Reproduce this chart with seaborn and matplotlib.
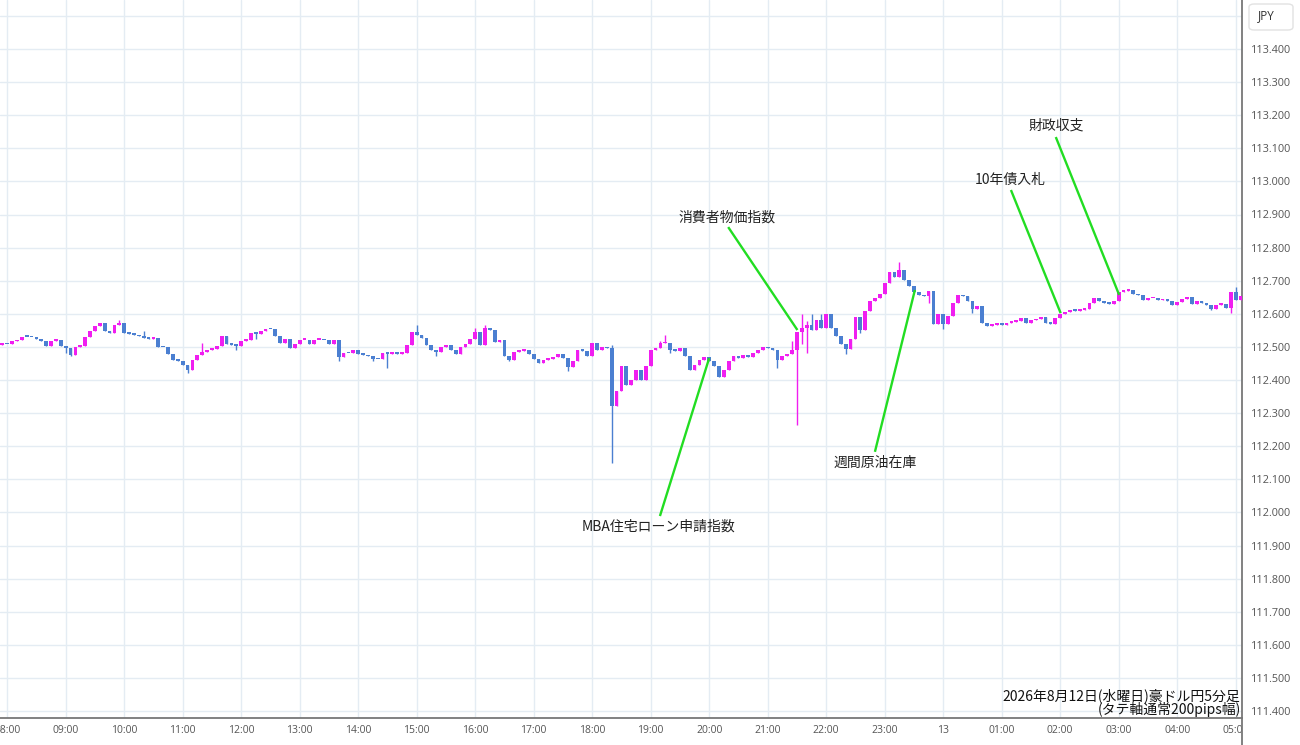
import matplotlib
matplotlib.use('Agg')
import matplotlib.pyplot as plt
import seaborn as sns
import numpy as np
from matplotlib.lines import Line2D
from matplotlib.patches import FancyBboxPatch
from matplotlib.transforms import Bbox, TransformedBbox

# 豪ドル円 5分足 終値 (07:55 から順に 1本ずつ)
closes = [
    112.509, 112.508, 112.517, 112.520, 112.531, 112.530, 112.529, 112.524, 112.519, 112.503, 112.518, 112.521,
    112.503, 112.496, 112.476, 112.501, 112.504, 112.531, 112.547, 112.562, 112.572, 112.547, 112.542, 112.565,
    112.572, 112.542, 112.540, 112.537, 112.532, 112.526, 112.524, 112.528, 112.501, 112.499, 112.478, 112.461,
    112.458, 112.446, 112.431, 112.461, 112.476, 112.484, 112.491, 112.493, 112.503, 112.534, 112.508, 112.506,
    112.504, 112.519, 112.521, 112.542, 112.539, 112.549, 112.555, 112.553, 112.532, 112.511, 112.524, 112.496,
    112.508, 112.521, 112.522, 112.509, 112.521, 112.522, 112.520, 112.510, 112.520, 112.470, 112.483, 112.481,
    112.492, 112.480, 112.477, 112.471, 112.464, 112.462, 112.481, 112.479, 112.484, 112.480, 112.482, 112.506,
    112.544, 112.536, 112.526, 112.506, 112.491, 112.486, 112.499, 112.506, 112.491, 112.478, 112.501, 112.508,
    112.524, 112.546, 112.506, 112.558, 112.552, 112.516, 112.521, 112.474, 112.461, 112.486, 112.488, 112.490,
    112.478, 112.464, 112.451, 112.461, 112.464, 112.470, 112.480, 112.466, 112.440, 112.456, 112.492, 112.488,
    112.471, 112.511, 112.491, 112.501, 112.496, 112.321, 112.366, 112.441, 112.386, 112.399, 112.431, 112.401,
    112.441, 112.491, 112.496, 112.511, 112.513, 112.491, 112.489, 112.496, 112.471, 112.431, 112.446, 112.461,
    112.468, 112.456, 112.441, 112.408, 112.431, 112.456, 112.471, 112.466, 112.476, 112.468, 112.481, 112.491,
    112.499, 112.496, 112.491, 112.461, 112.471, 112.478, 112.491, 112.546, 112.558, 112.566, 112.551, 112.581,
    112.557, 112.600, 112.556, 112.533, 112.510, 112.493, 112.525, 112.590, 112.550, 112.608, 112.638, 112.648,
    112.660, 112.693, 112.726, 112.710, 112.733, 112.703, 112.683, 112.666, 112.658, 112.653, 112.670, 112.568,
    112.600, 112.568, 112.593, 112.633, 112.658, 112.653, 112.638, 112.613, 112.623, 112.573, 112.563, 112.566,
    112.573, 112.565, 112.573, 112.576, 112.578, 112.588, 112.573, 112.580, 112.583, 112.590, 112.573, 112.570,
    112.588, 112.600, 112.604, 112.611, 112.609, 112.612, 112.616, 112.634, 112.647, 112.640, 112.632, 112.630,
    112.640, 112.667, 112.670, 112.672, 112.660, 112.656, 112.641, 112.647, 112.649, 112.641, 112.646, 112.640,
    112.626, 112.637, 112.645, 112.650, 112.630, 112.640, 112.632, 112.628, 112.616, 112.628, 112.631, 112.619,
    112.667, 112.642, 112.655,
]
first_open = 112.506

# 目立つヒゲ (足番号 -> 価格)
wick_lows = {13: 112.481, 14: 112.472, 38: 112.421, 48: 112.492, 52: 112.524, 69: 112.457,
             76: 112.457, 79: 112.436, 89: 112.471, 104: 112.456, 116: 112.426, 125: 112.149,
             137: 112.481, 159: 112.436, 163: 112.264, 164: 112.510, 165: 112.481, 173: 112.480,
             176: 112.543, 190: 112.633, 193: 112.553, 199: 112.603, 248: 112.612, 252: 112.601}
wick_highs = {24: 112.580, 29: 112.548, 41: 112.511, 52: 112.544, 85: 112.565, 97: 112.557,
              99: 112.565, 125: 112.505, 135: 112.517, 136: 112.537, 162: 112.517, 164: 112.600,
              165: 112.577, 166: 112.598, 168: 112.598, 176: 112.583, 184: 112.756, 253: 112.680}

hour_labels = ['08:00', '09:00', '10:00', '11:00', '12:00', '13:00', '14:00', '15:00', '16:00',
               '17:00', '18:00', '19:00', '20:00', '21:00', '22:00', '23:00', '13', '01:00',
               '02:00', '03:00', '04:00', '05:00']

events = ['MBA住宅ローン申請指数', '消費者物価指数', '週間原油在庫', '10年債入札', '財政収支']
event_bar = [145.0, 163.1, 187.2, 217.1, 229.1]
event_price = [112.466, 112.551, 112.672, 112.602, 112.657]

# ラベルの配置 (文字中心 / 線の始点)
label_x = [134.7, 148.7, 179.0, 206.7, 216.1]
label_y = [111.956, 112.892, 112.149, 113.004, 113.170]
line_x0 = [134.9, 148.9, 179.0, 206.9, 216.1]
line_y0 = [111.989, 112.862, 112.183, 112.974, 113.134]

UP = '#f01ef0'
DOWN = '#4b7fd1'
GREEN = '#22dd22'
GRID = '#e4ecf3'

sns.set_theme(style='white')
plt.rcParams['font.family'] = ['Noto Sans CJK JP', 'DejaVu Sans']

W, H = 1300, 745
fig = plt.figure(figsize=(W / 100, H / 100), dpi=100)
ax_right = 1242 / W
ax_bottom = 27 / H
ax = fig.add_axes([0, ax_bottom, ax_right, 1 - ax_bottom])

n = len(closes)
idx = np.arange(n)
opens = np.array([first_open] + closes[:-1])
cl = np.array(closes)
body_lo = np.minimum(opens, cl)
body_hi = np.maximum(opens, cl)
lows = np.array([wick_lows.get(i, body_lo[i]) for i in range(n)])
highs = np.array([wick_highs.get(i, body_hi[i]) for i in range(n)])
colors = [UP if c >= o else DOWN for o, c in zip(opens, cl)]

ax.vlines(idx, lows, highs, colors=colors, linewidth=1.0, zorder=3)
heights = np.maximum(body_hi - body_lo, 0.005)
ax.bar(idx, heights, bottom=body_lo, width=0.75, color=colors, linewidth=0, zorder=4)

# 経済指標の注記
for name, bx, bp, tx, ty, x0, y0 in zip(events, event_bar, event_price, label_x, label_y, line_x0, line_y0):
    ax.plot([x0, bx], [y0, bp], color=GREEN, linewidth=1.7, zorder=5, solid_capstyle='butt')
    ax.text(tx, ty, name, ha='center', va='center', fontsize=10, color='#222222', zorder=6)

x_lo = -2.3 / 4.875
x_hi = (1242 - 2.3) / 4.875
ax.set_xlim(x_lo, x_hi)
ax.set_ylim(113.4 - (718 - 49) / 331, 113.4 + 49 / 331)

hour_pos = [1 + 12 * k for k in range(len(hour_labels))]
ax.set_xticks(hour_pos)
ax.set_xticklabels(hour_labels, fontsize=7.5, color='#555555', family=['Open Sans', 'DejaVu Sans'])

price_ticks = np.round(np.arange(111.4, 113.55, 0.1), 1)
ax.set_yticks(price_ticks)
ax.set_yticklabels([f'{p:.3f}' if p < 113.45 else '' for p in price_ticks],
                   fontsize=7.8, color='#555555', family=['Open Sans', 'DejaVu Sans'])
ax.yaxis.tick_right()
ax.tick_params(axis='y', length=0, pad=6.5)
ax.tick_params(axis='x', length=0, pad=5)

ax.grid(True, color=GRID, linewidth=1.0, zorder=0)
ax.set_axisbelow(True)
for side in ['top', 'left']:
    ax.spines[side].set_visible(False)
ax.spines['right'].set_color('#777777')
ax.spines['right'].set_linewidth(1.3)
ax.spines['bottom'].set_color('#777777')
ax.spines['bottom'].set_linewidth(1.3)

# 右端で時間ラベルを切る
clip = TransformedBbox(Bbox([[0, 0], [ax_right, 1]]), fig.transFigure)
for lbl in ax.get_xticklabels():
    lbl.set_clip_box(clip)
    lbl.set_clip_on(True)

# 縦軸線を下端まで延長
fig.add_artist(Line2D([ax_right, ax_right], [0, ax_bottom], transform=fig.transFigure,
                      color='#777777', linewidth=1.3))

# 通貨ボックス
fig.add_artist(FancyBboxPatch((1249 / W, 1 - 30 / H), 44 / W, 26 / H,
                              boxstyle='round,pad=0,rounding_size=0.004', transform=fig.transFigure,
                              facecolor='white', edgecolor='#e2e2e2', linewidth=1.0))
fig.text(1266 / W, 1 - 16 / H, 'JPY', ha='center', va='center', fontsize=8.5, color='#333333',
         family=['Open Sans', 'DejaVu Sans'])

fig.text(1240 / W, 1 - 695.5 / H, '2026年8月12日(水曜日)豪ドル円5分足', ha='right', va='center',
         fontsize=10, color='#111111')
fig.text(1241 / W, 1 - 709.5 / H, '(タテ軸通常200pips幅)', ha='right', va='center',
         fontsize=10, color='#111111')

fig.savefig('out.png', dpi=100, facecolor='white')
plt.close(fig)
